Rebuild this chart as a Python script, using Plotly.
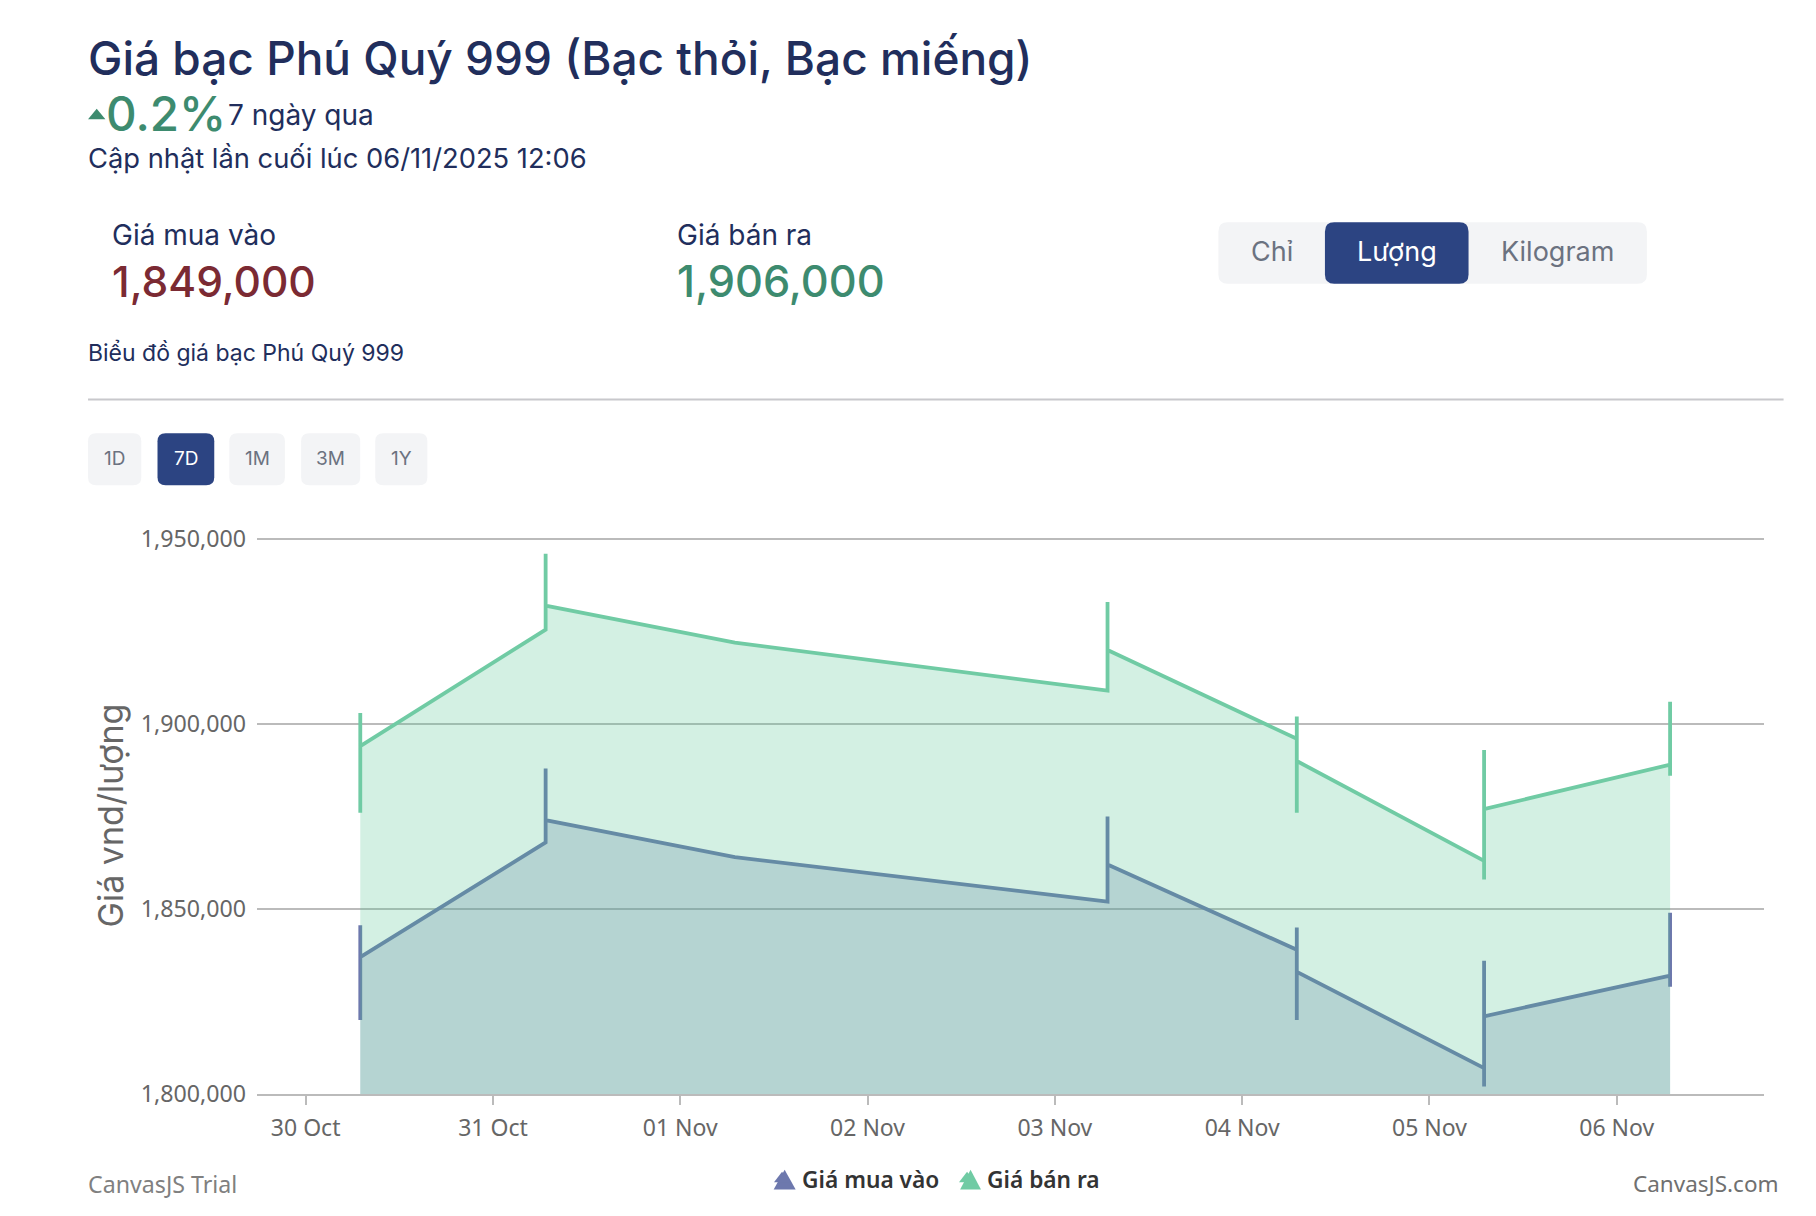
import plotly.graph_objects as go

W, H = 1816, 1216
S = W / 1568

# data
buy_x = ["2025-10-30T07:00", "2025-10-30T07:00", "2025-10-30T07:00",
         "2025-10-31T06:45", "2025-10-31T06:45", "2025-10-31T06:45",
         "2025-11-01T07:00",
         "2025-11-03T06:45", "2025-11-03T06:45", "2025-11-03T06:45",
         "2025-11-04T07:00", "2025-11-04T07:00", "2025-11-04T07:00", "2025-11-04T07:00",
         "2025-11-05T07:00", "2025-11-05T07:00", "2025-11-05T07:00", "2025-11-05T07:00",
         "2025-11-06T06:50", "2025-11-06T06:50", "2025-11-06T06:50"]
buy_y = [1820000, 1845600, 1837000,
         1868000, 1888000, 1874000,
         1864000,
         1852000, 1875000, 1862000,
         1839000, 1845000, 1820000, 1833000,
         1807000, 1802000, 1836000, 1821000,
         1832000, 1829000, 1849000]
sell_x = list(buy_x)
sell_y = [1876000, 1903000, 1894000,
          1925500, 1946000, 1932000,
          1922000,
          1909000, 1933000, 1920000,
          1896000, 1902000, 1876000, 1890000,
          1863000, 1858000, 1893000, 1877000,
          1889000, 1886000, 1906000]
y_ticks = [1800000, 1850000, 1900000, 1950000]

BUY = "#6D78AD"
SELL = "#70CBA4"
NAVY = "#212E5C"
GREEN = "#3D8B6F"
RED = "#7B2A33"
BTN = "#F3F4F6"
ACTIVE = "#2C4482"
GREY = "#6B7280"
UI_FONT = "Inter"

# plot area in page pixels
L = round(222 * S)
R = W - round(1523 * S)
T = round(465 * S) - 2
B = H - round(945 * S)
PW, PH = W - L - R, H - T - B


def fx(d):
    return (d * S - L) / PW


def fy(d):
    return 1 - (d * S - T) / PH


def rrect(x0, y0, x1, y1, r, color):
    a, b, c, d = fx(x0), fx(x1), fy(y0), fy(y1)
    rx, ry = r * S / PW, r * S / PH
    path = (f"M{a+rx},{c} L{b-rx},{c} Q{b},{c} {b},{c-ry} L{b},{d+ry} Q{b},{d} {b-rx},{d} "
            f"L{a+rx},{d} Q{a},{d} {a},{d+ry} L{a},{c-ry} Q{a},{c} {a+rx},{c} Z")
    return dict(type="path", xref="paper", yref="paper", path=path, fillcolor=color,
                line=dict(width=0), layer="below")


def tri(x0, x1, y0, y1, color):
    return dict(type="path", xref="paper", yref="paper", fillcolor=color, line=dict(width=0),
                path=f"M{fx(x0)},{fy(y1)} L{fx((x0 + x1) / 2)},{fy(y0)} L{fx(x1)},{fy(y1)} Z")


def txt(x, y, t, size, color, anchor="left", weight=400, family=UI_FONT):
    return dict(xref="paper", yref="paper", x=fx(x), y=fy(y), text=t, showarrow=False,
                xanchor=anchor, yanchor="middle", borderpad=0,
                font=dict(size=size, color=color, family=family, weight=weight))


shapes = [
    rrect(1052, 192, 1422, 245, 8, BTN),
    rrect(1144, 192, 1268, 245, 8, ACTIVE),
    rrect(76, 374, 122, 419, 7, BTN),
    rrect(136, 374, 185, 419, 7, ACTIVE),
    rrect(198, 374, 246, 419, 7, BTN),
    rrect(260, 374, 311, 419, 7, BTN),
    rrect(324, 374, 369, 419, 7, BTN),
    dict(type="line", xref="paper", yref="paper", x0=fx(76), x1=fx(1540), y0=fy(345), y1=fy(345),
         line=dict(color="#C8C8CC", width=2)),
    tri(76, 91, 94, 103, GREEN),
    tri(668, 687, 1010, 1027, BUY),
    tri(829, 847, 1010, 1027, SELL),
]

annotations = [
    txt(75, 50, "Giá bạc Phú Quý 999 (Bạc thỏi, Bạc miếng)", 46, NAVY, weight=500),
    txt(91, 98, "0.2%", 47.5, GREEN, weight=500),
    txt(196, 99, "7 ngày qua", 28, NAVY),
    txt(75, 137, "Cập nhật lần cuối lúc 06/11/2025 12:06", 27.3, NAVY),
    txt(96, 203, "Giá mua vào", 28, NAVY),
    txt(96, 243, "1,849,000", 42.5, RED, weight=500),
    txt(584, 203, "Giá bán ra", 28, NAVY),
    txt(584, 243, "1,906,000", 43.3, GREEN, weight=500),
    txt(1098, 217, "Chỉ", 27, GREY, "center"),
    txt(1206, 217, "Lượng", 27, "#FFFFFF", "center"),
    txt(1345, 217, "Kilogram", 27, GREY, "center"),
    txt(75, 305, "Biểu đồ giá bạc Phú Quý 999", 23, NAVY),
    txt(99, 396, "1D", 19, GREY, "center"),
    txt(160.5, 396, "7D", 19, "#FFFFFF", "center"),
    txt(222, 396, "1M", 19, GREY, "center"),
    txt(285.5, 396, "3M", 19, GREY, "center"),
    txt(346.5, 396, "1Y", 19, GREY, "center"),
    txt(75, 1022, "CanvasJS Trial", 23.2, "#808080", family="Noto Sans"),
    txt(1537, 1022, "CanvasJS.com", 22.5, "#707070", "right", family="Noto Sans"),
]

fig = go.Figure()
fig.add_trace(go.Scatter(x=buy_x, y=buy_y, mode="lines", showlegend=False, fill="tozeroy",
                         fillcolor="rgba(109,120,173,0.275)",
                         line=dict(color=BUY, width=3.8, simplify=False)))
fig.add_trace(go.Scatter(x=sell_x, y=sell_y, mode="lines", showlegend=False, fill="tozeroy",
                         fillcolor="rgba(79,195,143,0.25)",
                         line=dict(color=SELL, width=3.8, simplify=False)))
for name, col in (("Giá mua vào", BUY), ("Giá bán ra", SELL)):
    fig.add_trace(go.Scatter(x=[None], y=[None], mode="markers", name=name,
                             marker=dict(symbol="triangle-up", size=14, color=col)))

fig.update_layout(
    width=W, height=H, paper_bgcolor="white", plot_bgcolor="white",
    margin=dict(l=L, r=R, t=T, b=B, pad=0),
    shapes=shapes, annotations=annotations,
    font=dict(family="Noto Sans", color="#666666", size=23),
    legend=dict(orientation="h", x=fx(658), xanchor="left", y=fy(1018), yanchor="middle",
                bgcolor="rgba(0,0,0,0)", entrywidth=140, entrywidthmode="pixels",
                font=dict(size=22.7, color="#333333", family="Noto Sans", weight=600),
                itemwidth=30, tracegroupgap=0),
    xaxis=dict(range=["2025-10-29T17:46", "2025-11-06T18:52"], tick0="2025-10-30", dtick=86400000,
               tickformat="%d %b", ticks="outside", ticklen=9, tickwidth=1.5, tickcolor="#BBBBBB",
               showline=True, linecolor="#BBBBBB", linewidth=2, showgrid=False, zeroline=False,
               tickfont=dict(size=23, color="#666666"), ticklabelstandoff=3),
    yaxis=dict(range=[1800000, 1950000 + 2 * 150000 / (480 * S)], tickvals=y_ticks, tickformat=",d", ticks="",
               showgrid=True, gridcolor="#BBBBBB", gridwidth=1.6, zeroline=False, showline=False,
               tickfont=dict(size=23.2, color="#666666"), ticklabelstandoff=10,
               title=dict(text="Giá vnd/lượng", standoff=6,
                          font=dict(size=34, color="#666666", family=UI_FONT))),
)
fig.write_html("out.html", config={"displayModeBar": False},
               post_script="document.body.style.margin='0';")
